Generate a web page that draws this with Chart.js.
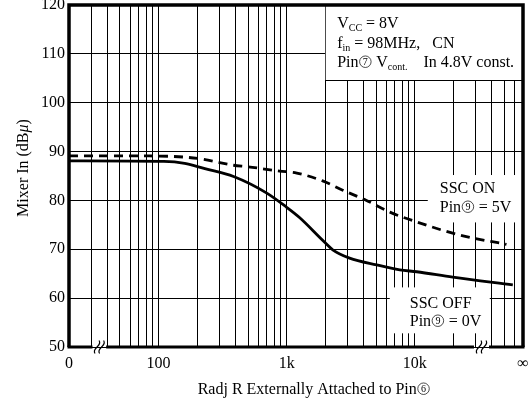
<!DOCTYPE html>
<html><head><meta charset="utf-8">
<script src="https://cdn.jsdelivr.net/npm/chart.js@4"></script>
<style>html,body{margin:0;padding:0;background:#fff}#wrap{width:532px;height:403px}</style>
</head><body><div id="wrap"><canvas id="c" width="532" height="403"></canvas></div>
<script>
// ---- data ----
const resistanceOff = [20, 110, 160, 230, 385, 700, 1000, 1260, 1900, 2290, 3100, 5050, 7640, 10370, 19800, 58300];
const mixerOff      = [88.1, 88.0, 87.6, 86.5, 84.9, 81.5, 78.6, 76.5, 71.9, 69.9, 68.2, 66.8, 65.8, 65.4, 64.3, 62.7];
const resistanceOn  = [20, 85, 202, 385, 496, 882, 1200, 1910, 2740, 4200, 6400, 10370, 22500, 52000];
const mixerOn       = [89.1, 89.1, 88.6, 87.2, 86.9, 86.0, 85.6, 84.0, 82.1, 80.0, 77.6, 75.6, 72.9, 71.0];
const xLabelValues  = [20, 100, 1000, 10000, 70000];
const xLabelTexts   = ['0', '100', '1k', '10k', '∞'];
const yTickValues   = [50, 60, 70, 80, 90, 100, 110, 120];
const decades       = [10, 100, 1000, 10000];
const mantissas     = [1, 2, 3, 4, 5, 6, 7, 8, 9];
const xMin = 20, xMax = 70000;

const gridTicks = [];
decades.forEach(d => mantissas.forEach(m => { const v = d * m; if (v >= xMin && v <= xMax) gridTicks.push(v); }));

const SERIF = '"Liberation Serif", "DejaVu Serif", serif';

function partWidth(ctx, p, size) {
  if (p.circ) return size * 0.85;
  const s = p.sub ? Math.round(size * 0.62) : size;
  ctx.font = (p.italic ? 'italic ' : '') + s + 'px ' + SERIF;
  return ctx.measureText(p.t).width;
}
function drawRich(ctx, parts, x, y, size) {
  let cx = x;
  parts.forEach(p => {
    const w = partWidth(ctx, p, size);
    if (p.circ) {
      const r = size * 0.36, ccx = cx + w / 2, ccy = y - size * 0.33;
      ctx.save();
      ctx.lineWidth = 0.7;
      ctx.beginPath(); ctx.arc(ccx, ccy, r, 0, Math.PI * 2); ctx.stroke();
      ctx.font = Math.round(size * 0.6) + 'px ' + SERIF;
      ctx.textAlign = 'center'; ctx.textBaseline = 'middle';
      ctx.fillText(p.circ, ccx, ccy + 0.5);
      ctx.restore();
    } else {
      const s = p.sub ? Math.round(size * 0.62) : size;
      ctx.font = (p.italic ? 'italic ' : '') + s + 'px ' + SERIF;
      ctx.fillText(p.t, cx, p.sub ? y + size * 0.18 : y);
    }
    cx += w;
  });
  return cx - x;
}
function richWidth(ctx, parts, size) {
  let w = 0;
  parts.forEach(p => { w += partWidth(ctx, p, size); });
  return w;
}
function squiggle(ctx, cx, cy) {
  ctx.beginPath();
  ctx.moveTo(cx - 2, cy + 6.5);
  ctx.bezierCurveTo(cx - 6, cy + 1, cx + 6, cy - 1, cx + 2, cy - 6.5);
  ctx.stroke();
}

const decor = {
  id: 'decor',
  beforeDatasetsDraw(chart) {
    const { ctx, scales: { x, y }, chartArea: a } = chart;
    ctx.save();
    ctx.fillStyle = '#fff';
    // condition inset box (top right)
    const ix = x.getPixelForValue(2000), iy = y.getPixelForValue(104.6);
    ctx.fillRect(ix + 0.5, a.top, a.right - ix, iy - a.top);
    ctx.strokeStyle = '#000'; ctx.lineWidth = 1;
    ctx.beginPath(); ctx.moveTo(ix, Math.round(iy) + 0.5); ctx.lineTo(a.right, Math.round(iy) + 0.5); ctx.stroke();
    // SSC ON label box
    const ox = x.getPixelForValue(12640), oy1 = y.getPixelForValue(85.2), oy2 = y.getPixelForValue(75.5);
    ctx.fillRect(ox, oy1, a.right - ox, oy2 - oy1);
    // SSC OFF label box
    const fx1 = x.getPixelForValue(6380), fx2 = x.getPixelForValue(38500);
    const fy1 = y.getPixelForValue(62.2), fy2 = y.getPixelForValue(52.8);
    ctx.fillRect(fx1, fy1, fx2 - fx1, fy2 - fy1);
    ctx.restore();
  },
  afterDatasetsDraw(chart) {
    const { ctx, scales: { x, y }, chartArea: a } = chart;
    ctx.save();
    ctx.strokeStyle = '#000'; ctx.fillStyle = '#000';
    // thick frame
    ctx.lineWidth = 3.5;
    ctx.beginPath();
    ctx.moveTo(a.left, a.bottom); ctx.lineTo(a.left, a.top); ctx.lineTo(a.right, a.top); ctx.lineTo(a.right, a.bottom);
    ctx.stroke();
    // bottom with breaks
    const b1 = x.getPixelForValue(30.5), b2 = x.getPixelForValue(39);
    const b3 = x.getPixelForValue(29000), b4 = x.getPixelForValue(38000);
    ctx.lineWidth = 3;
    ctx.beginPath();
    ctx.moveTo(a.left - 1.5, a.bottom); ctx.lineTo(b1, a.bottom);
    ctx.moveTo(b2, a.bottom); ctx.lineTo(b3, a.bottom);
    ctx.moveTo(b4, a.bottom); ctx.lineTo(a.right + 1.5, a.bottom);
    ctx.stroke();
    ctx.lineWidth = 1.2;
    const d1 = (b2 - b1) / 3, d2 = (b4 - b3) / 3;
    squiggle(ctx, b1 + d1, a.bottom); squiggle(ctx, b1 + 2 * d1, a.bottom);
    squiggle(ctx, b3 + d2, a.bottom); squiggle(ctx, b3 + 2 * d2, a.bottom);

    ctx.textBaseline = 'alphabetic'; ctx.textAlign = 'left';
    // inset conditions
    const tx = x.getPixelForValue(2000) + 12;
    drawRich(ctx, [{ t: 'V' }, { t: 'CC', sub: 1 }, { t: ' = 8V' }], tx, 28, 16);
    drawRich(ctx, [{ t: 'f' }, { t: 'in', sub: 1 }, { t: ' = 98MHz,   CN' }], tx, 48, 16);
    drawRich(ctx, [{ t: 'Pin' }, { circ: '7' }, { t: ' V' }, { t: 'cont.', sub: 1 }, { t: '    In 4.8V const.' }], tx, 67, 16);
    // series labels
    const onx = x.getPixelForValue(12640) + 12;
    drawRich(ctx, [{ t: 'SSC ON' }], onx, 193, 16);
    drawRich(ctx, [{ t: 'Pin' }, { circ: '9' }, { t: ' = 5V' }], onx, 212, 16);
    const offx = x.getPixelForValue(6380) + 20;
    drawRich(ctx, [{ t: 'SSC OFF' }], offx, 308, 16);
    drawRich(ctx, [{ t: 'Pin' }, { circ: '9' }, { t: ' = 0V' }], offx, 326, 16);
    // axis titles
    const xt = [{ t: 'Radj R Externally Attached to Pin' }, { circ: '6' }];
    const xw = richWidth(ctx, xt, 16);
    drawRich(ctx, xt, 314 - xw / 2, 394, 16);
    const yt = [{ t: 'Mixer In (dB' }, { t: 'μ', italic: 1 }, { t: ')' }];
    const yw = richWidth(ctx, yt, 16);
    ctx.translate(28, 168); ctx.rotate(-Math.PI / 2);
    drawRich(ctx, yt, -yw / 2, 0, 16);
    ctx.restore();
  }
};

new Chart(document.getElementById('c'), {
  type: 'line',
  data: {
    datasets: [
      { label: 'SSC ON', data: resistanceOn.map((r, i) => ({ x: r, y: mixerOn[i] })),
        borderColor: '#000', borderWidth: 2.8, borderDash: [9, 6], pointRadius: 0,
        cubicInterpolationMode: 'monotone', fill: false },
      { label: 'SSC OFF', data: resistanceOff.map((r, i) => ({ x: r, y: mixerOff[i] })),
        borderColor: '#000', borderWidth: 2.8, pointRadius: 0,
        cubicInterpolationMode: 'monotone', fill: false }
    ]
  },
  options: {
    responsive: false, animation: false, devicePixelRatio: 1,
    layout: { padding: { left: 0, top: 5, right: 9, bottom: 0 } },
    plugins: { legend: { display: false }, tooltip: { enabled: false }, title: { display: false } },
    scales: {
      x: {
        type: 'logarithmic', min: xMin, max: xMax,
        afterBuildTicks: s => { s.ticks = gridTicks.map(v => ({ value: v })); },
        afterFit: s => { s.height = 56; s.paddingLeft = 0; s.paddingRight = 0; },
        ticks: {
          autoSkip: false, maxRotation: 0, minRotation: 0, padding: 7, color: '#000',
          font: { family: SERIF, size: 16 },
          callback: v => { const i = xLabelValues.indexOf(v); return i < 0 ? '' : xLabelTexts[i]; }
        },
        grid: { color: '#000', lineWidth: 1, drawTicks: false },
        border: { display: false }
      },
      y: {
        min: 50, max: 120,
        afterBuildTicks: s => { s.ticks = yTickValues.map(v => ({ value: v })); },
        afterFit: s => { s.width = 69; s.paddingTop = 0; s.paddingBottom = 0; },
        ticks: { padding: 4, color: '#000', font: { family: SERIF, size: 16 } },
        grid: { color: '#000', lineWidth: 1, drawTicks: false },
        border: { display: false }
      }
    }
  },
  plugins: [decor]
});
</script>
</body></html>
